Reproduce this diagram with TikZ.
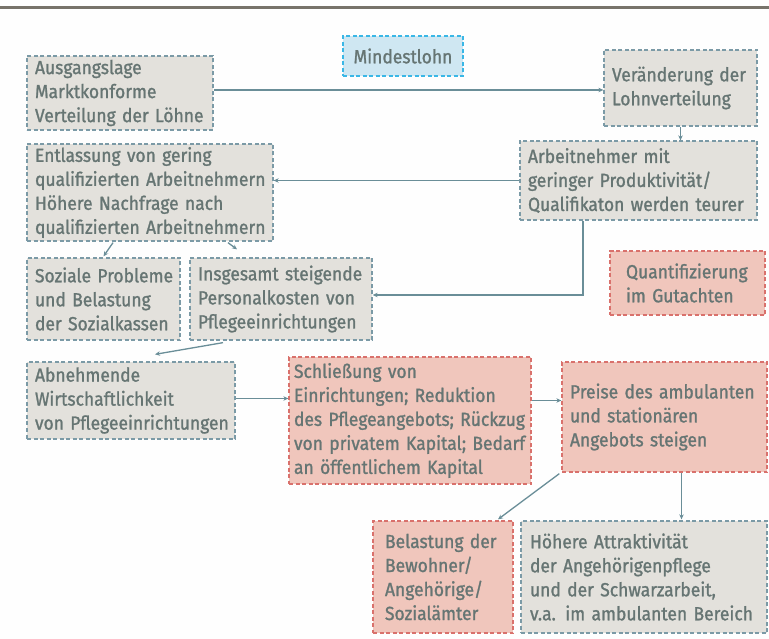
\documentclass[tikz,border=0pt]{standalone}
\usepackage{fontspec}
\setmainfont{Fira Sans}[FakeStretch=0.92, FakeBold=1.2]
\usetikzlibrary{arrows.meta}
\definecolor{txt}{HTML}{667573}
\definecolor{gfill}{HTML}{E3E1DC}
\definecolor{gdash}{HTML}{7B9AA6}
\definecolor{rfill}{HTML}{F0C6BC}
\definecolor{rdash}{HTML}{D9716C}
\definecolor{bfill}{HTML}{CFE7F2}
\definecolor{bdash}{HTML}{3AB7E6}
\definecolor{arrc}{HTML}{6A8E98}
\definecolor{rulec}{HTML}{77736A}
\tikzset{
  boxbase/.style={inner sep=0pt, align=left, text=txt, line width=1.3pt,
    dash pattern=on 4pt off 2.5pt, font=\fontsize{19}{24}\selectfont},
  ind/.style={execute at begin node={\leftskip=#1\relax\hyphenpenalty=10000\relax}},
  gbox/.style={boxbase, fill=gfill, draw=gdash},
  rbox/.style={boxbase, fill=rfill, draw=rdash},
  bbox/.style={boxbase, fill=bfill, draw=bdash, align=center},
  arr/.style={draw=arrc, line width=1.3pt, -{Stealth[length=5pt,width=4.5pt]}}
}
\begin{document}
\begin{tikzpicture}[x=1pt,y=-1pt]
\fill[white!99!gray] (0,0) rectangle (769,639);
\useasboundingbox (0,0) rectangle (769,639);
\draw[rulec, line width=3pt] (0,8) -- (769,8);

\node[bbox, minimum width=120pt, minimum height=40pt] (mind) at (403,56) {Mindestlohn};
\node[gbox, minimum height=74pt, text width=186pt, ind=8pt] (ausg) at (120,93)
  {Ausgangslage\\Marktkonforme\\Verteilung der Löhne};
\node[gbox, minimum height=76pt, text width=153pt, ind=8pt] (ver) at (680.5,88)
  {Veränderung der\\Lohnverteilung};
\node[gbox, minimum height=79pt, text width=237pt, ind=8pt] (arb) at (638.5,180.5)
  {Arbeitnehmer mit\\geringer Produktivität/\\Qualifikaton werden teurer};
\node[gbox, minimum height=97pt, text width=246pt, ind=8pt] (entl) at (150,192.5)
  {Entlassung von gering\\qualifizierten Arbeitnehmern\\Höhere Nachfrage nach\\qualifizierten Arbeitnehmern};
\node[gbox, minimum height=82pt, text width=153pt, ind=8pt] (soz) at (103.5,299)
  {Soziale Probleme\\und Belastung\\der Sozialkassen};
\node[gbox, minimum height=82pt, text width=182pt, ind=8pt] (insg) at (281,299)
  {Insgesamt steigende\\Personalkosten von\\Pflegeeinrichtungen};
\node[rbox, minimum height=64pt, text width=155pt, ind=16pt] (quant) at (687.5,283)
  {Quantifizierung\\im Gutachten};
\node[gbox, minimum height=77pt, text width=208pt, ind=8pt] (abn) at (131,400.5)
  {Abnehmende\\Wirtschaftlichkeit\\von Pflegeeinrichtungen};
\node[rbox, minimum height=127pt, text width=242pt, ind=5pt] (schl) at (410,420.5)
  {Schließung von\\Einrichtungen; Reduktion\\des Pflegeangebots; Rückzug\\von privatem Kapital; Bedarf\\an öffentlichem Kapital};
\node[rbox, minimum height=110pt, text width=205pt, ind=8pt] (preis) at (664.5,417)
  {Preise des ambulanten\\und stationären\\Angebots steigen};
\node[rbox, minimum height=112pt, text width=140pt, ind=12pt] (bel) at (443,577)
  {Belastung der\\Bewohner/\\Angehörige/\\Sozialämter};
\node[gbox, minimum height=112pt, text width=246pt, ind=9pt] (hoeh) at (644,577)
  {Höhere Attraktivität\\der Angehörigenpflege\\und der Schwarzarbeit,\\v.a. im ambulanten Bereich};

\draw[arr] ([yshift=3pt]ausg.east) -- ([yshift=3pt]ausg.east -| ver.west);
\draw[arr] (ver.south) -- (ver.south |- arb.north);
\draw[arr] (arb.west) -- (arb.west -| entl.east);
\draw[arr] ([xshift=-55.5pt]arb.south) |- ([yshift=4pt]insg.east);
\draw[arr] ([xshift=-37pt,yshift=-1pt]entl.south) -- ([yshift=1pt]soz.north);
\draw[arr] ([xshift=78pt,yshift=-1pt]entl.south) -- ([xshift=-44pt,yshift=8pt]insg.north);
\draw[arr] ([xshift=-58pt,yshift=-2pt]insg.south) -- ([xshift=24pt,yshift=7pt]abn.north);
\draw[arr] ([yshift=2pt]abn.east) -- ([yshift=2pt]abn.east -| schl.west);
\draw[arr] ([yshift=20pt]schl.east) -- ([yshift=20pt]schl.east -| preis.west);
\draw[arr] ([xshift=-2pt,yshift=-1pt]preis.south west) -- ([xshift=55pt,yshift=1pt]bel.north);
\draw[arr] ([xshift=17pt]preis.south) -- ([xshift=17pt,yshift=1pt]preis.south |- hoeh.north);
\end{tikzpicture}
\end{document}
